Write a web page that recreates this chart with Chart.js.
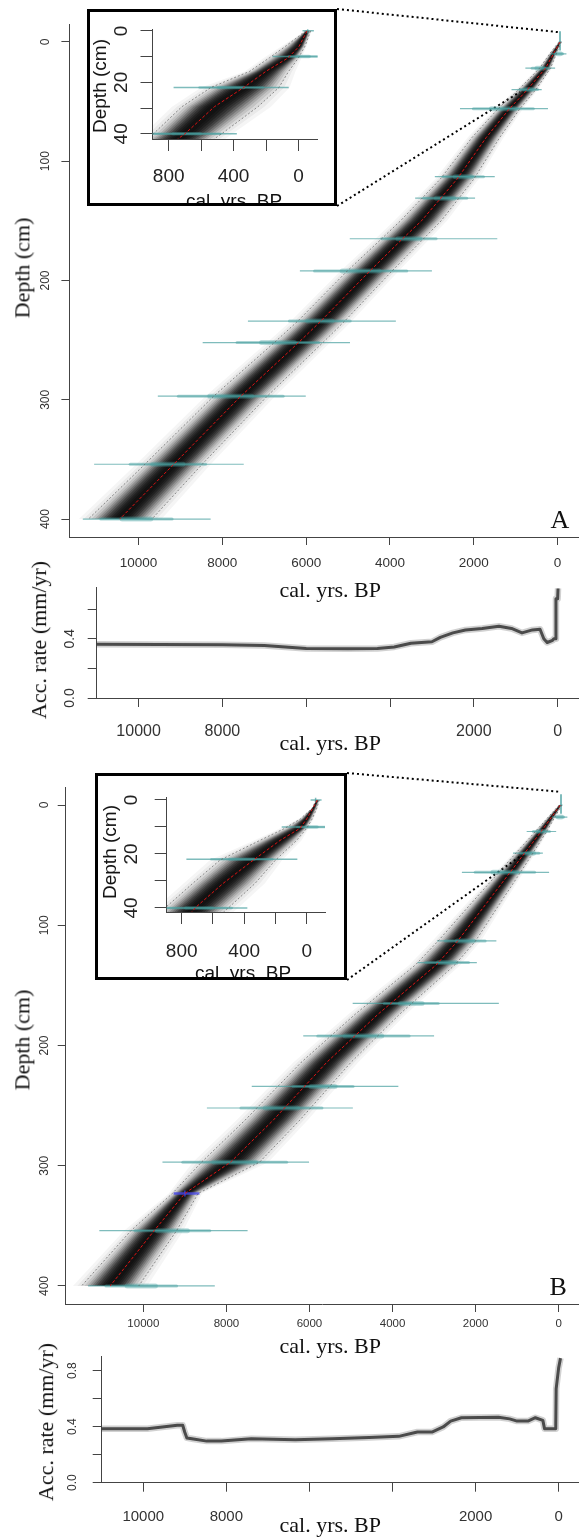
<!DOCTYPE html>
<html>
<head>
<meta charset="utf-8">
<script src="https://cdn.jsdelivr.net/npm/chart.js@4.4.0/dist/chart.umd.min.js"></script>
<style>
html, body { margin: 0; padding: 0; background: #fff; }
body { position: relative; width: 579px; height: 1539px; overflow: hidden; }
canvas { position: absolute; }
.txt { position: absolute; white-space: nowrap; line-height: 1; color: #111; transform-origin: center center; }
.inset { position: absolute; box-sizing: border-box; border: 3px solid #000; background: #fff; overflow: hidden; z-index: 3; }
</style>
</head>
<body>
<script>
// ========================================
// DATA
// ========================================

// panel A: age-depth model, depth (cm) vs cal. yr BP
const depthA  = [0, 10, 22, 40, 56, 80, 115, 150, 165, 192, 234, 252, 297, 354, 400];
const medianA = [-60, 100, 290, 720, 1150, 1700, 2400, 3250, 3700, 4480, 5650, 6180, 7560, 9160, 10450];
const youngA  = [-90, 30, 170, 520, 900, 1380, 2000, 2780, 3200, 3950, 5080, 5600, 6930, 8480, 9680];
const oldA    = [-30, 190, 430, 930, 1420, 2040, 2800, 3750, 4200, 5020, 6200, 6760, 8210, 9850, 11200];

// panel A inset (top 40 cm)
const insetDepthA  = [0, 6, 10.5, 15.7, 22, 29.5, 40, 42];
const insetMedianA = [-53, -4, 64, 200, 338, 519, 700, 745];
const insetYoungA  = [-75, -40, 0, 60, 120, 250, 474, 520];
const insetOldA    = [-45, 80, 180, 300, 540, 720, 895, 940];

// panel B: age-depth model
const depthB  = [0, 10, 22, 40, 56, 80, 113, 133, 174, 214, 262, 297, 323, 354, 400];
const medianB = [-40, 170, 420, 820, 1170, 1700, 2430, 2950, 4350, 5585, 6870, 7900, 9000, 9740, 10800];
const youngB  = [-75, 90, 290, 620, 920, 1380, 2000, 2500, 3830, 5000, 6230, 7200, 8680, 9200, 10110];
const oldB    = [-10, 250, 560, 1030, 1440, 2060, 2900, 3450, 4900, 6200, 7550, 8600, 9300, 10300, 11490];

// panel B inset
const insetDepthB  = [0, 3, 7, 10.5, 15, 22.3, 30.9, 39.5, 42];
const insetMedianB = [-68, -40, 0, 43, 171, 342, 535, 705, 745];
const insetYoungB  = [-80, -65, -35, 0, 65, 200, 330, 492, 540];
const insetOldB    = [-60, -35, 40, 140, 300, 556, 730, 897, 940];

// calibrated dates (shared by both panels)
const dateDepth = [10, 22, 40, 56, 113, 131, 165, 192, 234, 252, 297, 354, 400];
const dateMin   = [-210, 60, 380, 230, 1500, 1970, 1440, 3000, 3860, 4955, 6010, 7490, 8280];
const dateMax   = [160, 770, 1100, 2330, 2930, 3400, 4960, 6150, 7390, 8470, 9540, 11060, 11330];
const coreMin   = [-120, 220, 480, 580, 1770, 2170, 2900, 3600, 4950, 5700, 6550, 8400, 9200];
const coreMax   = [60, 610, 900, 2010, 2730, 3200, 4200, 5800, 6400, 7650, 9050, 10200, 10900];
const surfDate  = [-95, -57, -25];            // surface date: min, mode, max
// extra (blue) date, panel B only
const blueDepth = [323];
const blueMin   = [8650];
const blueMax   = [9270];
const blueMode  = [9000];

// accumulation rates (mm/yr)
const accAgeA  = [11000, 9500, 8000, 7000, 6500, 6000, 5000, 4300, 3900, 3500, 3000, 2800, 2500, 2200, 1800, 1400, 1100, 850, 600, 420, 330, 250, 120, 90, 45, 40, 0, -10];
const accRateA = [0.364, 0.362, 0.36, 0.355, 0.345, 0.335, 0.333, 0.335, 0.345, 0.37, 0.38, 0.41, 0.44, 0.46, 0.47, 0.485, 0.47, 0.44, 0.46, 0.465, 0.40, 0.375, 0.39, 0.40, 0.40, 0.67, 0.67, 0.74];
const accAgeB  = [11000, 9900, 9540, 9180, 9050, 9000, 8950, 8830, 8470, 8120, 7400, 6340, 5450, 4560, 3850, 3400, 3050, 2780, 2600, 2340, 1450, 1180, 1000, 740, 560, 380, 340, 70, 60, 0, -45];
const accRateB = [0.386, 0.386, 0.398, 0.41, 0.41, 0.36, 0.32, 0.314, 0.297, 0.297, 0.314, 0.306, 0.314, 0.322, 0.331, 0.362, 0.362, 0.398, 0.44, 0.464, 0.468, 0.456, 0.44, 0.44, 0.464, 0.445, 0.386, 0.386, 0.67, 0.82, 0.89];

// ticks
const ageTicks         = [10000, 8000, 6000, 4000, 2000, 0];
const ageTickLabels    = ['10000', '8000', '6000', '4000', '2000', '0'];
const accAgeTickLabels = ['10000', '8000', '', '', '2000', '0'];
const depthTicks       = [0, 100, 200, 300, 400];
const depthTickLabels  = ['0', '100', '200', '300', '400'];
const insetAgeTicks    = [800, 600, 400, 200, 0];
const insetAgeLabels   = ['800', '', '400', '', '0'];
const insetDepthTicks  = [0, 10, 20, 30, 40];
const insetDepthLabels = ['0', '', '20', '', '40'];
const accTicksA  = [0, 0.2, 0.4, 0.6];
const accLabelsA = ['0.0', '', '0.4', ''];
const accTicksB  = [0, 0.2, 0.4, 0.6, 0.8];
const accLabelsB = ['0.0', '', '0.4', '', '0.8'];

// ========================================
// STYLE
// ========================================
const AXIS = '#444';
const TEAL = 'rgba(72,160,160,0.7)';
const TEAL_CORE = 'rgba(72,160,160,0.45)';
const TEAL_PEAK = 'rgba(72,160,160,0.35)';
const BLUE = 'rgba(70,70,230,0.8)';
const RED = '#dd1111';
const BOUND = 'rgba(95,95,95,0.85)';
// nested grey shapes (fraction of the 95% range) and their opacity
const LAYERS = [1.3, 1.15, 1.0, 0.9, 0.8, 0.72, 0.64, 0.56, 0.48, 0.4, 0.32, 0.24, 0.16];
const ALPHAS = [0.04, 0.05, 0.07, 0.1, 0.13, 0.16, 0.2, 0.24, 0.28, 0.3, 0.3, 0.3, 0.3];
const SANS = '"Liberation Sans", Arial, sans-serif';
const SERIF = '"Liberation Serif", "Times New Roman", serif';

function pts(xs, ys) { return xs.map((x, i) => ({ x: x, y: ys[i] })); }

function line(data, color, width, order, extra) {
    return Object.assign({
        data: data, showLine: true, borderColor: color, borderWidth: width,
        pointRadius: 0, fill: false, tension: 0, order: order
    }, extra || {});
}

// grey density: nested shapes between median and the 95% bounds
function bandLayer(depth, median, young, old, f) {
    const left = depth.map((d, i) => ({ x: median[i] + f * (old[i] - median[i]), y: d }));
    const right = depth.map((d, i) => ({ x: median[i] - f * (median[i] - young[i]), y: d })).reverse();
    return left.concat(right);
}

function modelDatasets(depth, median, young, old, st, withBlue) {
    const sets = [];
    LAYERS.forEach((f, k) => {
        sets.push(line(bandLayer(depth, median, young, old, f), 'rgba(0,0,0,0)', 0, 10,
            { fill: 'shape', backgroundColor: 'rgba(0,0,0,' + ALPHAS[k] + ')' }));
    });
    dateDepth.forEach((d, i) => {
        const w = coreMax[i] - coreMin[i];
        sets.push(line([{ x: dateMin[i], y: d }, { x: dateMax[i], y: d }], TEAL, st.thin, 5));
        sets.push(line([{ x: coreMin[i], y: d }, { x: coreMax[i], y: d }], TEAL_CORE, st.core, 5, { borderCapStyle: 'round' }));
        sets.push(line([{ x: coreMin[i] + 0.3 * w, y: d }, { x: coreMax[i] - 0.3 * w, y: d }], TEAL_PEAK, st.peak, 5, { borderCapStyle: 'round' }));
    });
    sets.push(line([{ x: surfDate[0], y: 0 }, { x: surfDate[2], y: 0 }], TEAL, st.thin, 5));
    sets.push(line([{ x: surfDate[1], y: -st.spike }, { x: surfDate[1], y: st.spike * 0.8 }], TEAL, st.spikeW, 5));
    if (withBlue) {
        blueDepth.forEach((d, i) => {
            sets.push(line([{ x: blueMin[i], y: d }, { x: blueMax[i], y: d }], BLUE, 2.5, 4));
            sets.push(line([{ x: blueMode[i], y: d - 2.5 }, { x: blueMode[i], y: d + 2.5 }], BLUE, 1.5, 4));
        });
    }
    sets.push(line(pts(young, depth), BOUND, 0.8, 3, { borderDash: [2, 2] }));
    sets.push(line(pts(old, depth), BOUND, 0.8, 3, { borderDash: [2, 2] }));
    sets.push(line(pts(median, depth), RED, 1, 1, { borderDash: [3, 2] }));
    return sets;
}

function accDatasets(ages, rates) {
    return [
        line(pts(ages, rates), 'rgba(0,0,0,0.18)', 6.5, 2, { borderJoinStyle: 'round' }),
        line(pts(ages, rates), 'rgba(30,30,30,0.75)', 3, 1, { borderJoinStyle: 'round' })
    ];
}

// R-style tick labels (y labels rotated)
function tickPlugin(t) {
    return {
        id: 'rTicks',
        afterDraw(chart) {
            const ctx = chart.ctx, a = chart.chartArea, sx = chart.scales.x, sy = chart.scales.y;
            ctx.save();
            ctx.fillStyle = t.color || '#222';
            ctx.textAlign = 'center';
            ctx.textBaseline = 'middle';
            ctx.font = t.xFont;
            t.xTicks.forEach((v, i) => {
                if (t.xLabels[i]) ctx.fillText(t.xLabels[i], sx.getPixelForValue(v), a.bottom + t.xOff);
            });
            ctx.font = t.yFont;
            t.yTicks.forEach((v, i) => {
                if (!t.yLabels[i]) return;
                ctx.save();
                ctx.translate(a.left - t.yOff, sy.getPixelForValue(v));
                ctx.rotate(-Math.PI / 2);
                ctx.fillText(t.yLabels[i], 0, 0);
                ctx.restore();
            });
            ctx.restore();
        }
    };
}

// dotted lines from the inset box to the zoomed region
function linkPlugin(lines) {
    return {
        id: 'links',
        beforeDatasetsDraw(chart) {
            const ctx = chart.ctx, sx = chart.scales.x, sy = chart.scales.y;
            ctx.save();
            ctx.strokeStyle = '#000';
            ctx.lineWidth = 2;
            ctx.setLineDash([2, 3]);
            lines.forEach(L => {
                ctx.beginPath();
                ctx.moveTo(L.from[0], L.from[1]);
                ctx.lineTo(sx.getPixelForValue(L.to[0]), sy.getPixelForValue(L.to[1]));
                ctx.stroke();
            });
            ctx.restore();
        }
    };
}

function axis(r, tickLen, fit, reverse) {
    return {
        type: 'linear', min: r.min, max: r.max, reverse: reverse,
        afterBuildTicks: s => { s.ticks = r.ticks.map(v => ({ value: v })); },
        afterFit: fit,
        ticks: { display: false },
        grid: { drawOnChartArea: false, drawTicks: true, tickLength: tickLen, color: AXIS, lineWidth: 1 },
        border: { display: true, color: AXIS, width: 1 }
    };
}

// box: canvas position/size; c.area = [left, top, right, bottom] inside the canvas
function makeChart(parent, box, c) {
    const cv = document.createElement('canvas');
    cv.width = box.w; cv.height = box.h;
    cv.style.left = box.x + 'px'; cv.style.top = box.y + 'px';
    cv.style.width = box.w + 'px'; cv.style.height = box.h + 'px';
    parent.appendChild(cv);
    return new Chart(cv, {
        type: 'scatter',
        data: { datasets: c.datasets },
        options: {
            responsive: false, animation: false, events: [], devicePixelRatio: 1,
            layout: { padding: { left: 0, top: c.area[1], right: box.w - c.area[2], bottom: 0 } },
            plugins: { legend: { display: false }, tooltip: { enabled: false } },
            scales: {
                x: axis(c.x, c.tickLen, s => { s.height = box.h - c.area[3]; }, true),
                y: axis(c.y, c.tickLen, s => { s.width = c.area[0]; }, c.y.reverse)
            }
        },
        plugins: [tickPlugin(c.ticks), linkPlugin(c.links || [])]
    });
}

function addText(parent, str, cx, cy, font, rot) {
    const el = document.createElement('div');
    el.className = 'txt';
    el.textContent = str;
    el.style.font = font;
    parent.appendChild(el);
    const w = el.offsetWidth, h = el.offsetHeight;
    el.style.left = (cx - w / 2) + 'px';
    el.style.top = (cy - h / 2) + 'px';
    if (rot) el.style.transform = 'rotate(-90deg)';
    return el;
}

function makeInset(x, y, w, h) {
    const d = document.createElement('div');
    d.className = 'inset';
    d.style.left = x + 'px'; d.style.top = y + 'px';
    d.style.width = w + 'px'; d.style.height = h + 'px';
    document.body.appendChild(d);
    return d;
}

const body = document.body;
const mainSt = { thin: 1.2, core: 3, peak: 5, spike: 9, spikeW: 2 };
const insetSt = { thin: 1.5, core: 2.5, peak: 3.5, spike: 1.2, spikeW: 1.5 };

// ========================================
// PANEL A
// ========================================
makeChart(body, { x: 0, y: 0, w: 579, h: 600 }, {
    area: [69.4, 24, 579, 537],
    x: { min: -510, max: 11650, ticks: ageTicks },
    y: { min: -15, max: 415, ticks: depthTicks, reverse: true },
    tickLen: 8,
    datasets: modelDatasets(depthA, medianA, youngA, oldA, mainSt, false),
    ticks: { xTicks: ageTicks, xLabels: ageTickLabels, xFont: '13.5px ' + SANS, xOff: 26,
             yTicks: depthTicks, yLabels: depthTickLabels, yFont: '12px ' + SANS, yOff: 23.4, color: '#333' },
    links: [{ from: [337, 9], to: [-60, -8] }, { from: [337, 206], to: [900, 42] }]
});
addText(body, 'Depth (cm)', 22, 268, '22px ' + SERIF, true);
addText(body, 'cal. yrs. BP', 330, 590, '22px ' + SERIF, false);
addText(body, 'A', 560, 520, '26px ' + SERIF, false);

const insA = makeInset(87, 9, 250, 197);
makeChart(insA, { x: 0, y: 0, w: 244, h: 191 }, {
    area: [62.5, 17.3, 227.6, 127],
    x: { min: -118, max: 900, ticks: insetAgeTicks },
    y: { min: -0.6, max: 42, ticks: insetDepthTicks, reverse: true },
    tickLen: 12,
    datasets: modelDatasets(insetDepthA, insetMedianA, insetYoungA, insetOldA, insetSt, false),
    ticks: { xTicks: insetAgeTicks, xLabels: insetAgeLabels, xFont: '19px ' + SANS, xOff: 38,
             yTicks: insetDepthTicks, yLabels: insetDepthLabels, yFont: '19px ' + SANS, yOff: 30.5, color: '#222' }
});
addText(insA, 'Depth (cm)', 10, 74, '19px ' + SANS, true);
addText(insA, 'cal. yrs. BP', 144, 189, '19px ' + SANS, false);

// accumulation rate A
makeChart(body, { x: 0, y: 575, w: 579, h: 180 }, {
    area: [96.7, 12, 579, 123],
    x: { min: -510, max: 11000, ticks: ageTicks },
    y: { min: 0, max: 0.75, ticks: accTicksA, reverse: false },
    tickLen: 9,
    datasets: accDatasets(accAgeA, accRateA),
    ticks: { xTicks: ageTicks, xLabels: accAgeTickLabels, xFont: '16px ' + SANS, xOff: 33.7,
             yTicks: accTicksA, yLabels: accLabelsA, yFont: '14px ' + SANS, yOff: 26.7, color: '#333' }
});
addText(body, 'Acc. rate (mm/yr)', 39, 640, '22px ' + SERIF, true);
addText(body, 'cal. yrs. BP', 330, 743, '22px ' + SERIF, false);

// ========================================
// PANEL B
// ========================================
makeChart(body, { x: 0, y: 765, w: 579, h: 600 }, {
    area: [65.7, 22, 579, 539],
    x: { min: -490, max: 11870, ticks: ageTicks },
    y: { min: -15, max: 415, ticks: depthTicks, reverse: true },
    tickLen: 8,
    datasets: modelDatasets(depthB, medianB, youngB, oldB, mainSt, true),
    ticks: { xTicks: ageTicks, xLabels: ageTickLabels, xFont: '11.5px ' + SANS, xOff: 20,
             yTicks: depthTicks, yLabels: depthTickLabels, yFont: '12px ' + SANS, yOff: 21.4, color: '#333' },
    links: [{ from: [347, 8], to: [-40, -11] }, { from: [347, 215], to: [900, 42] }]
});
addText(body, 'Depth (cm)', 22, 1040, '22px ' + SERIF, true);
addText(body, 'cal. yrs. BP', 330, 1346, '22px ' + SERIF, false);
addText(body, 'B', 558, 1287, '26px ' + SERIF, false);

const insB = makeInset(95, 773, 252, 207);
makeChart(insB, { x: 0, y: 0, w: 246, h: 201 }, {
    area: [68.7, 21.8, 227, 136],
    x: { min: -117, max: 896, ticks: insetAgeTicks },
    y: { min: -0.8, max: 41.5, ticks: insetDepthTicks, reverse: true },
    tickLen: 12,
    datasets: modelDatasets(insetDepthB, insetMedianB, insetYoungB, insetOldB, insetSt, false),
    ticks: { xTicks: insetAgeTicks, xLabels: insetAgeLabels, xFont: '19px ' + SANS, xOff: 39.7,
             yTicks: insetDepthTicks, yLabels: insetDepthLabels, yFont: '19px ' + SANS, yOff: 35, color: '#222' }
});
addText(insB, 'Depth (cm)', 12, 76, '19px ' + SANS, true);
addText(insB, 'cal. yrs. BP', 145, 197, '19px ' + SANS, false);

// accumulation rate B
makeChart(body, { x: 0, y: 1338, w: 579, h: 200 }, {
    area: [101.7, 18.7, 579, 144.7],
    x: { min: -490, max: 11000, ticks: ageTicks },
    y: { min: 0, max: 0.9, ticks: accTicksB, reverse: false },
    tickLen: 9,
    datasets: accDatasets(accAgeB, accRateB),
    ticks: { xTicks: ageTicks, xLabels: accAgeTickLabels, xFont: '15px ' + SANS, xOff: 34,
             yTicks: accTicksB, yLabels: accLabelsB, yFont: '12px ' + SANS, yOff: 28.7, color: '#333' }
});
addText(body, 'Acc. rate (mm/yr)', 46, 1422, '22px ' + SERIF, true);
addText(body, 'cal. yrs. BP', 330, 1525, '22px ' + SERIF, false);
</script>
</body>
</html>
